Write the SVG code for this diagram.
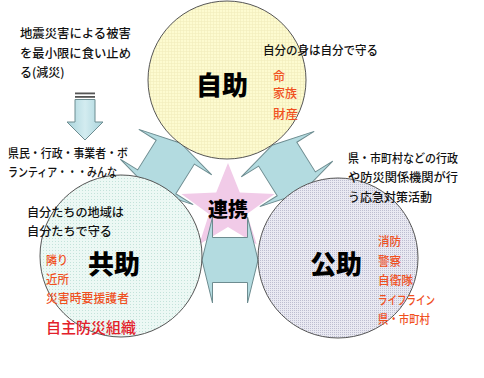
<svg xmlns="http://www.w3.org/2000/svg" width="484" height="378" viewBox="0 0 484 378">
  <defs>
    <style>
      text { font-family: "Noto Sans CJK JP", "Noto Sans", sans-serif; }
      .note { font-size: 12px; fill: #111; font-weight: 500; }
      .red { font-size: 12px; fill: #f0501e; font-weight: 500; }
      .big { font-size: 26px; font-weight: 900; fill: #000; text-anchor: middle; }
      .circle { stroke: #555; stroke-width: 1; }
      .dbl { fill: #b3dbe0; stroke: #6d8c90; stroke-width: 1; stroke-linejoin: miter; }
    </style>
    <pattern id="pYellow" width="3" height="3" patternUnits="userSpaceOnUse">
      <rect width="3" height="3" fill="#fdfbd0"/>
      <path d="M0 0.5H3M0.5 0V3" stroke="#f1ecbc" stroke-width="0.6"/>
    </pattern>
    <pattern id="pGreen" width="3" height="3" patternUnits="userSpaceOnUse">
      <rect width="3" height="3" fill="#ecf8f4"/>
      <rect x="1" y="1" width="1" height="1" fill="#c3e2da"/>
    </pattern>
    <pattern id="pLav" width="2" height="2" patternUnits="userSpaceOnUse">
      <rect width="2" height="2" fill="#e9e9f2"/>
      <rect x="0" y="0" width="1" height="1" fill="#bdbdd0"/>
    </pattern>
    <linearGradient id="gDown" x1="0" y1="0" x2="1" y2="0">
      <stop offset="0" stop-color="#a9d4dc"/>
      <stop offset="0.5" stop-color="#d3ecf0"/>
      <stop offset="1" stop-color="#a9d4dc"/>
    </linearGradient>
    <polygon id="dblArrow" points="28,0 17.5,43 17.5,22.5 -17.5,22.5 -17.5,43 -28,0 -17.5,-43 -17.5,-22.5 17.5,-22.5 17.5,-43"/>
  </defs>

  <rect width="484" height="378" fill="#ffffff"/>

  <!-- star behind 連携 -->
  <g id="node-renkei-star">
    <polygon points="228,163 239.8,192.6 274.6,194.1 247,213.9 256.8,244.4 228,227 199.2,244.4 209,213.9 181.4,194.1 216.2,192.6" fill="#f1cbe8"/>
  </g>

  <!-- connectors -->
  <g id="connectors">
    <use href="#dblArrow" class="dbl" transform="translate(166,167) rotate(-58)"/>
    <use href="#dblArrow" class="dbl" transform="translate(287,169) rotate(58)"/>
    <use href="#dblArrow" class="dbl" transform="translate(230,260)"/>
    <g id="down-arrow">
      <rect x="75" y="92.5" width="20" height="1.8" fill="#555"/>
      <rect x="75" y="96" width="20" height="1.8" fill="#555"/>
      <polygon points="75,99.5 95,99.5 95,122 103,122 85,140 67,122 75,122" fill="url(#gDown)" stroke="#6d8c90" stroke-width="1"/>
    </g>
  </g>

  <!-- 自助 -->
  <g id="node-jijo">
    <circle cx="227" cy="80" r="79" fill="url(#pYellow)" class="circle"/>
    <text x="222" y="95" class="big">自助</text>
    <text x="273" y="81" class="red">命</text>
    <text x="273" y="98" class="red" textLength="24" lengthAdjust="spacingAndGlyphs">家族</text>
    <text x="273" y="118.5" class="red" textLength="25" lengthAdjust="spacingAndGlyphs">財産</text>
  </g>

  <!-- 共助 -->
  <g id="node-kyojo">
    <circle cx="121" cy="256" r="81" fill="url(#pGreen)" class="circle"/>
    <text x="114" y="274" class="big">共助</text>
    <text x="46" y="264.5" class="red" textLength="22" lengthAdjust="spacingAndGlyphs">隣り</text>
    <text x="46" y="283.5" class="red" textLength="23" lengthAdjust="spacingAndGlyphs">近所</text>
    <text x="46" y="302.5" class="red" textLength="83" lengthAdjust="spacingAndGlyphs">災害時要援護者</text>
    <text x="46" y="332.5" style="font-size:15px; fill:#e3202a; font-weight:500" textLength="90" lengthAdjust="spacingAndGlyphs">自主防災組織</text>
  </g>

  <!-- 公助 -->
  <g id="node-kojo">
    <circle cx="338" cy="258" r="80" fill="url(#pLav)" class="circle"/>
    <text x="336" y="274" class="big">公助</text>
    <text x="378" y="245.5" class="red" textLength="23" lengthAdjust="spacingAndGlyphs">消防</text>
    <text x="378" y="265.5" class="red" textLength="23" lengthAdjust="spacingAndGlyphs">警察</text>
    <text x="378" y="284.5" class="red" textLength="35" lengthAdjust="spacingAndGlyphs">自衛隊</text>
    <text x="378" y="304.5" class="red" textLength="57" lengthAdjust="spacingAndGlyphs">ライフライン</text>
    <text x="378" y="323.5" class="red" textLength="52" lengthAdjust="spacingAndGlyphs">県・市町村</text>
  </g>

  <!-- 連携 -->
  <g id="node-renkei">
    <text x="228" y="217" style="font-size:20px; font-weight:900; fill:#000; text-anchor:middle">連携</text>
  </g>

  <!-- notes -->
  <g id="note-gensai">
    <text x="20" y="37.5" class="note" textLength="111" lengthAdjust="spacingAndGlyphs">地震災害による被害</text>
    <text x="20" y="57.5" class="note" textLength="111" lengthAdjust="spacingAndGlyphs">を最小限に食い止め</text>
    <text x="20" y="76.5" class="note">る(減災)</text>
  </g>
  <g id="note-jijo">
    <text x="263" y="55" class="note" textLength="115" lengthAdjust="spacingAndGlyphs">自分の身は自分で守る</text>
  </g>
  <g id="note-minna">
    <text x="8" y="157.5" class="note" textLength="120" lengthAdjust="spacingAndGlyphs">県民・行政・事業者・ボ</text>
    <text x="8" y="176.5" class="note" textLength="109" lengthAdjust="spacingAndGlyphs">ランティア・・・みんな</text>
  </g>
  <g id="note-kojo">
    <text x="348" y="162.5" class="note" textLength="110" lengthAdjust="spacingAndGlyphs">県・市町村などの行政</text>
    <text x="348" y="181.5" class="note" textLength="110" lengthAdjust="spacingAndGlyphs">や防災関係機関が行</text>
    <text x="348" y="201.5" class="note" textLength="84" lengthAdjust="spacingAndGlyphs">う応急対策活動</text>
  </g>
  <g id="note-kyojo">
    <text x="27" y="216.5" class="note" textLength="97" lengthAdjust="spacingAndGlyphs">自分たちの地域は</text>
    <text x="27" y="235.5" class="note" textLength="85" lengthAdjust="spacingAndGlyphs">自分たちで守る</text>
  </g>
</svg>
